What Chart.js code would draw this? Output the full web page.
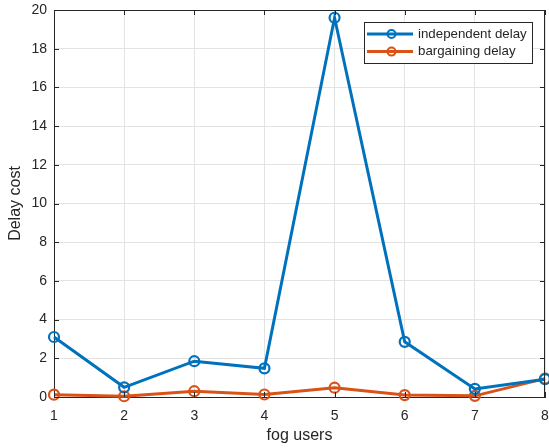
<!DOCTYPE html>
<html>
<head>
<meta charset="utf-8">
<script src="https://cdn.jsdelivr.net/npm/chart.js@4/dist/chart.umd.min.js"></script>
<style>
  html, body { margin: 0; padding: 0; background: #fff; }
  #wrap { width: 549px; height: 448px; position: relative; }
</style>
</head>
<body>
<div id="wrap"><canvas id="view-canvas"></canvas></div>
<script>
// data
var fogUsers = [1, 2, 3, 4, 5, 6, 7, 8];
var independentDelay = [3.1, 0.5, 1.85, 1.48, 19.6, 2.85, 0.42, 0.92];
var bargainingDelay = [0.12, 0.04, 0.3, 0.13, 0.48, 0.1, 0.06, 0.95];
var yTicks = [0, 2, 4, 6, 8, 10, 12, 14, 16, 18, 20];

var seriesNames = ['independent delay', 'bargaining delay'];
var seriesColors = ['#0072BD', '#D95319'];

var axisColor = '#262626';
var gridColor = '#e3e3e3';
var fontFamily = '"Liberation Sans", Arial, Helvetica, sans-serif';

function toPoints(values) {
    var pts = [];
    fogUsers.forEach(function (u, i) {
        pts.push({ x: u, y: values[i] });
    });
    return pts;
}

function makeDataset(label, values, color) {
    return {
        label: label,
        data: toPoints(values),
        borderColor: color,
        backgroundColor: 'rgba(0,0,0,0)',
        borderWidth: 3,
        pointRadius: 5,
        pointBorderWidth: 2.2,
        pointBorderColor: color,
        pointBackgroundColor: 'rgba(0,0,0,0)',
        pointHoverRadius: 5,
        tension: 0,
        clip: false
    };
}

// box, inner ticks, axis titles and the legend, matlab style
var matlabAxes = {
    id: 'matlabAxes',
    afterDraw: function (chart) {
        var c = chart.ctx;
        var a = chart.chartArea;
        var xs = chart.scales.x;
        var ys = chart.scales.y;
        var tl = 5;

        c.save();
        c.strokeStyle = axisColor;
        c.lineWidth = 1;
        c.beginPath();
        c.moveTo(a.left, a.top + 0.5);
        c.lineTo(a.right, a.top + 0.5);
        c.moveTo(a.right - 0.5, a.top);
        c.lineTo(a.right - 0.5, a.bottom);
        fogUsers.forEach(function (u) {
            var px = Math.round(xs.getPixelForValue(u)) + 0.5;
            c.moveTo(px, a.bottom);
            c.lineTo(px, a.bottom - tl);
            c.moveTo(px, a.top);
            c.lineTo(px, a.top + tl);
        });
        yTicks.forEach(function (v) {
            var py = Math.round(ys.getPixelForValue(v)) + 0.5;
            c.moveTo(a.left, py);
            c.lineTo(a.left + tl, py);
            c.moveTo(a.right, py);
            c.lineTo(a.right - tl, py);
        });
        c.stroke();

        // axis titles
        c.fillStyle = axisColor;
        c.font = '16px ' + fontFamily;
        c.textAlign = 'center';
        c.textBaseline = 'middle';
        c.fillText('fog users', (a.left + a.right) / 2, 436);
        c.save();
        c.translate(16, (a.top + a.bottom) / 2);
        c.rotate(-Math.PI / 2);
        c.fillText('Delay cost', 0, 0);
        c.restore();

        // legend
        var lx = 364, ly = 22, lw = 168, lh = 41;
        c.fillStyle = '#fff';
        c.fillRect(lx, ly, lw, lh);
        c.strokeStyle = axisColor;
        c.lineWidth = 1;
        c.strokeRect(lx + 0.5, ly + 0.5, lw, lh);
        c.font = '13.3px ' + fontFamily;
        c.textAlign = 'left';
        chart.data.datasets.forEach(function (ds, i) {
            var cy = ly + 12 + i * 17.6;
            c.strokeStyle = ds.borderColor;
            c.lineWidth = 3;
            c.beginPath();
            c.moveTo(367, cy);
            c.lineTo(413, cy);
            c.stroke();
            c.lineWidth = 2;
            c.beginPath();
            c.arc(391.5, cy, 4, 0, Math.PI * 2);
            c.stroke();
            c.fillStyle = axisColor;
            c.fillText(ds.label, 418, cy);
        });
        c.restore();
    }
};

var canvas = document.getElementById('view-canvas');

var myChart = new Chart(canvas, {
    type: 'line',
    data: {
        datasets: [
            makeDataset(seriesNames[0], independentDelay, seriesColors[0]),
            makeDataset(seriesNames[1], bargainingDelay, seriesColors[1])
        ]
    },
    options: {
        responsive: true,
        maintainAspectRatio: false,
        animation: false,
        events: [],
        layout: { autoPadding: false, padding: { left: 0, right: 4, top: 10, bottom: 0 } },
        scales: {
            x: {
                type: 'linear',
                min: 1,
                max: 8,
                afterFit: function (s) {
                    s.height = 51;
                    s.paddingLeft = 0;
                    s.paddingRight = 0;
                },
                afterBuildTicks: function (s) {
                    s.ticks = fogUsers.map(function (v) { return { value: v }; });
                },
                grid: { color: gridColor, drawTicks: false },
                border: { display: true, color: axisColor, width: 1 },
                ticks: {
                    color: axisColor,
                    padding: 11,
                    maxRotation: 0,
                    autoSkip: false,
                    font: { family: fontFamily, size: 14 }
                }
            },
            y: {
                type: 'linear',
                min: 0,
                max: 20,
                afterFit: function (s) {
                    s.width = 54;
                    s.paddingTop = 0;
                    s.paddingBottom = 0;
                },
                afterBuildTicks: function (s) {
                    s.ticks = yTicks.map(function (v) { return { value: v }; });
                },
                grid: { color: gridColor, drawTicks: false },
                border: { display: true, color: axisColor, width: 1 },
                ticks: {
                    color: axisColor,
                    padding: 7,
                    autoSkip: false,
                    font: { family: fontFamily, size: 14 }
                }
            }
        },
        plugins: {
            legend: { display: false },
            tooltip: { enabled: false }
        }
    },
    plugins: [matlabAxes]
});
</script>
</body>
</html>
